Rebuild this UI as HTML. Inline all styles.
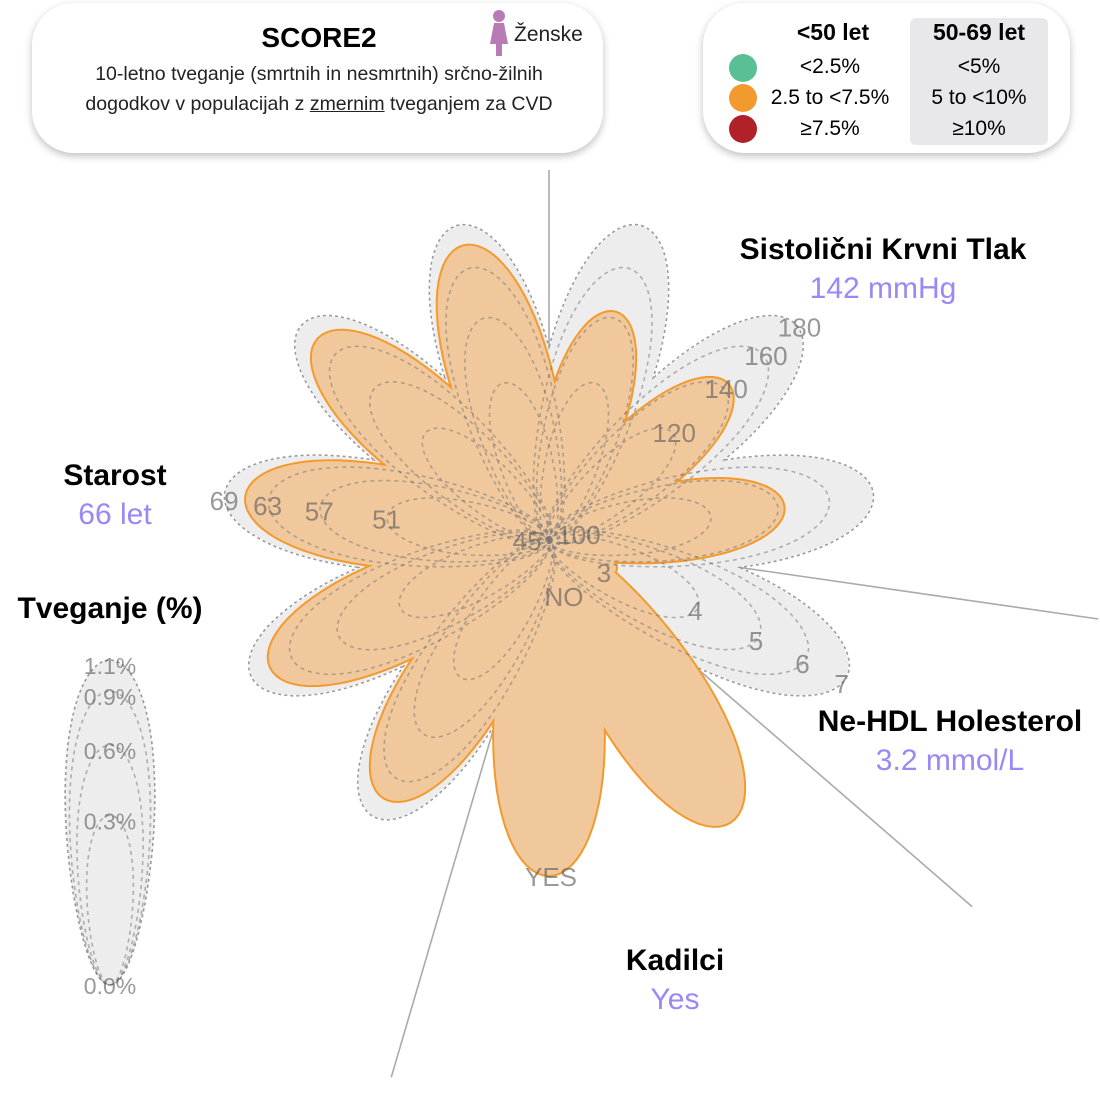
<!DOCTYPE html>
<html><head><meta charset="utf-8">
<style>
html,body{margin:0;padding:0;background:#fff;}
body{width:1100px;height:1100px;position:relative;overflow:hidden;font-family:"Liberation Sans",sans-serif;}
.box{position:absolute;background:#fff;border-radius:42px;box-shadow:0 3px 8px rgba(0,0,0,0.25);}
.t{position:absolute;text-align:center;font-weight:bold;font-size:30px;}
.v{position:absolute;text-align:center;font-size:30px;color:#9b87f5;}
</style></head>
<body>
<div class="box" style="left:32px;top:3px;width:571px;height:150px;">
  <div style="position:absolute;left:0;width:574px;top:19px;text-align:center;font-weight:bold;font-size:28px;color:#000;">SCORE2</div>
  <div style="position:absolute;left:0;width:574px;top:56px;text-align:center;font-size:19.5px;line-height:30px;color:#222;">10-letno tveganje (smrtnih in nesmrtnih) srčno-žilnih<br>dogodkov v populacijah z <u>zmernim</u> tveganjem za CVD</div>
  <svg style="position:absolute;left:454px;top:5px" width="26" height="50">
    <circle cx="13" cy="8" r="6" fill="#b87bb6"/>
    <path d="M8 15 H18 L22 36 H16 V48 H10 V36 H4 Z" fill="#b87bb6"/>
  </svg>
  <div style="position:absolute;left:482px;top:20px;font-size:21px;color:#222;">Ženske</div>
</div>
<div class="box" style="left:703px;top:3px;width:367px;height:150px;">
  <div style="position:absolute;left:207px;top:15px;width:138px;height:127px;background:#e8e8ea;border-radius:6px;"></div>
  <div style="position:absolute;left:60px;width:140px;top:16px;text-align:center;font-weight:bold;font-size:23px;">&lt;50 let</div>
  <div style="position:absolute;left:207px;width:138px;top:16px;text-align:center;font-weight:bold;font-size:23px;">50-69 let</div>
  <div style="position:absolute;left:26px;top:51px;width:28px;height:28px;border-radius:50%;background:#5bbf95;"></div>
  <div style="position:absolute;left:26px;top:81px;width:28px;height:28px;border-radius:50%;background:#f39a2e;"></div>
  <div style="position:absolute;left:26px;top:112px;width:28px;height:28px;border-radius:50%;background:#b0212a;"></div>
  <div style="position:absolute;left:57px;width:140px;top:52px;text-align:center;font-size:21px;">&lt;2.5%</div>
  <div style="position:absolute;left:57px;width:140px;top:83px;text-align:center;font-size:21px;">2.5 to &lt;7.5%</div>
  <div style="position:absolute;left:57px;width:140px;top:114px;text-align:center;font-size:21px;">≥7.5%</div>
  <div style="position:absolute;left:207px;width:138px;top:52px;text-align:center;font-size:21px;">&lt;5%</div>
  <div style="position:absolute;left:207px;width:138px;top:83px;text-align:center;font-size:21px;">5 to &lt;10%</div>
  <div style="position:absolute;left:207px;width:138px;top:114px;text-align:center;font-size:21px;">≥10%</div>
</div>

<svg id="chart" width="1100" height="1100" style="position:absolute;left:0;top:0;pointer-events:none;"></svg>

<script>
const petalUnit = 360 / 11;
const ageTicks = [51, 57, 63, 69];
const ageRange = [45, 69];
const ageValue = 66;
const sbpTicks = [120, 140, 160, 180];
const sbpRange = [100, 180];
const sbpValue = 142;
const cholTicks = [4, 5, 6, 7];
const cholRange = [3, 7];
const cholValue = 3.2;
const smokeCategories = ['NO', 'YES'];
const smokeValue = 'YES';
const riskTicks = [0.3, 0.6, 0.9, 1.1];
const riskMax = 1.1;

const NS = 'http://www.w3.org/2000/svg';
const svg = document.getElementById('chart');
const CX = 549, CY = 540, R = 327;
const WIDTH_RATIO = 0.19;

function rScale(v, range, maxR) {
  const f = Math.max(0, Math.min(1, (v - range[0]) / (range[1] - range[0])));
  return Math.sqrt(f) * maxR;
}
function petalAngle(i) { return 270 - (i + 0.5) * petalUnit; }
function petalPath(cx, cy, ang, L, wr) {
  const a = L / 2, b = (wr || WIDTH_RATIO) * L;
  const rad = ang * Math.PI / 180, c = Math.cos(rad), s = Math.sin(rad);
  let d = '';
  const n = 72;
  for (let k = 0; k <= n; k++) {
    const th = 2 * Math.PI * k / n;
    const x = a * (1 - Math.cos(th));
    const y = b * Math.sin(th) * (0.7 + 0.3 * x / L);
    const px = cx + x * c - y * s, py = cy + x * s + y * c;
    d += (k ? ' L' : 'M') + px.toFixed(1) + ' ' + py.toFixed(1);
  }
  return d + ' Z';
}
function mk(tag, attrs, parent) {
  const el = document.createElementNS(NS, tag);
  for (const k in attrs) el.setAttribute(k, attrs[k]);
  (parent || svg).appendChild(el);
  return el;
}

const axisAngles = [270, petalAngle(4) - petalUnit / 2, petalAngle(6) - petalUnit / 2, petalAngle(7) - petalUnit / 2];
const axisLens = [370, 560, 560, 555];
axisAngles.forEach((a, i) => {
  const rad = a * Math.PI / 180;
  const ln = mk('line', {x1: CX, y1: CY, x2: CX + axisLens[i] * Math.cos(rad), y2: CY + axisLens[i] * Math.sin(rad), stroke: '#aaa', 'stroke-width': 1.6});
  
  
});

const sectors = [
  {name: 'age', idx: [0,1,2,3,4], ticks: ageTicks, range: ageRange, value: ageValue},
  {name: 'chol', idx: [7], ticks: cholTicks, range: cholRange, value: cholValue},
  {name: 'sbp', idx: [8,9,10], ticks: sbpTicks, range: sbpRange, value: sbpValue}
];
const gBg = mk('g', {});


sectors.forEach(s => s.idx.forEach(i => {
  const p = mk('path', {d: petalPath(CX, CY, petalAngle(i), R), fill: 'none', stroke: '#999', 'stroke-width': 3, 'stroke-dasharray': '3 3'}, gBg);
  
  
}));
sectors.forEach(s => s.idx.forEach(i => {
  const p = mk('path', {d: petalPath(CX, CY, petalAngle(i), R), fill: '#ededed'}, gBg);
  
  
}));

const gVal = mk('g', {});


const valShapes = [];
sectors.forEach(s => s.idx.forEach(i => {
  valShapes.push({name: s.name, d: petalPath(CX, CY, petalAngle(i), rScale(s.value, s.range, R))});
}));
const smokeIdx = [5, 6];
const smokeR = smokeCategories.indexOf(smokeValue) === 1 ? 335 : 0;
if (smokeR > 0) {
  const a1 = (petalAngle(5) + petalUnit / 2) * Math.PI / 180, a2 = (petalAngle(6) - petalUnit / 2) * Math.PI / 180;
  const wr = 170;
  valShapes.push({name: 'smoking', d: 'M' + CX + ' ' + CY + ' L' + (CX + wr * Math.cos(a1)) + ' ' + (CY + wr * Math.sin(a1)) + ' A' + wr + ' ' + wr + ' 0 0 0 ' + (CX + wr * Math.cos(a2)) + ' ' + (CY + wr * Math.sin(a2)) + ' Z'});
  smokeIdx.forEach(i => valShapes.push({name: 'smoking', d: petalPath(CX, CY, petalAngle(i), smokeR)}));
}
valShapes.forEach(v => {
  const p = mk('path', {d: v.d, fill: 'none', stroke: '#f39a2e', 'stroke-width': 4, 'stroke-linejoin': 'round'}, gVal);
  
  
});
valShapes.forEach(v => {
  const p = mk('path', {d: v.d, fill: '#f1c89c'}, gVal);
  
  
});

const gTicks = mk('g', {});


sectors.forEach(s => s.idx.forEach(i => {
  s.ticks.slice(0, -1).forEach(t => {
    const p = mk('path', {d: petalPath(CX, CY, petalAngle(i), rScale(t, s.range, R)), fill: 'none', stroke: 'rgba(120,120,120,0.55)', 'stroke-width': 1.6, 'stroke-dasharray': '4 4'}, gTicks);
    
    
  });
}));

function label(txt, x, y, size, name) {
  const t = mk('text', {x: x, y: y, 'font-size': size, fill: 'rgba(90,90,90,0.62)', 'text-anchor': 'middle', 'dominant-baseline': 'middle', 'font-family': 'Liberation Sans, sans-serif'});
  t.textContent = txt;
  
  
  return t;
}
const labelDirs = {age: 186.5, sbp: 320, chol: 26.5};
sectors.forEach(s => {
  const rad = labelDirs[s.name] * Math.PI / 180;
  s.ticks.forEach(t => {
    const r = rScale(t, s.range, R);
    label(String(t), CX + r * Math.cos(rad), CY + r * Math.sin(rad), 26, s.name + '-tick-label');
  });
});
label(String(ageRange[0]), 527, 543, 26, 'age-min-label');
label(String(sbpRange[0]), 579, 537, 26, 'sbp-min-label');
label(String(cholRange[0]), 604, 575, 26, 'chol-min-label');
label(smokeCategories[0], 564, 599, 26, 'smoking-no-label');
label(smokeCategories[1], 551, 879, 26, 'smoking-yes-label');

const LX = 110, LY = 985, LR = 325;
const gRisk = mk('g', {});


mk('path', {d: petalPath(LX, LY, 270, LR, 0.16), fill: '#ededed', stroke: '#999', 'stroke-width': 1.6, 'stroke-dasharray': '3 3'}, gRisk);
riskTicks.forEach(t => {
  const r = Math.sqrt(t / riskMax) * LR;
  if (t < riskMax) {
    const p = mk('path', {d: petalPath(LX, LY, 270, r, 0.16), fill: 'none', stroke: 'rgba(120,120,120,0.55)', 'stroke-width': 1.6, 'stroke-dasharray': '4 4'}, gRisk);
    
    
  }
  label(t.toFixed(1) + '%', LX, LY - r + 8, 23, 'risk-tick-label');
});
label('0.0%', LX, 988, 23, 'risk-zero-label');
</script>

<div class="t" style="left:683px;width:400px;top:233px;">Sistolični Krvni Tlak</div>
<div class="v" style="left:683px;width:400px;top:272px;">142 mmHg</div>
<div class="t" style="left:15px;width:200px;top:459px;">Starost</div>
<div class="v" style="left:15px;width:200px;top:498px;">66 let</div>
<div class="t" style="left:0;width:220px;top:592px;">Tveganje (%)</div>
<div class="t" style="left:790px;width:320px;top:705px;">Ne-HDL Holesterol</div>
<div class="v" style="left:790px;width:320px;top:744px;">3.2 mmol/L</div>
<div class="t" style="left:575px;width:200px;top:944px;">Kadilci</div>
<div class="v" style="left:575px;width:200px;top:983px;">Yes</div>
</body></html>
